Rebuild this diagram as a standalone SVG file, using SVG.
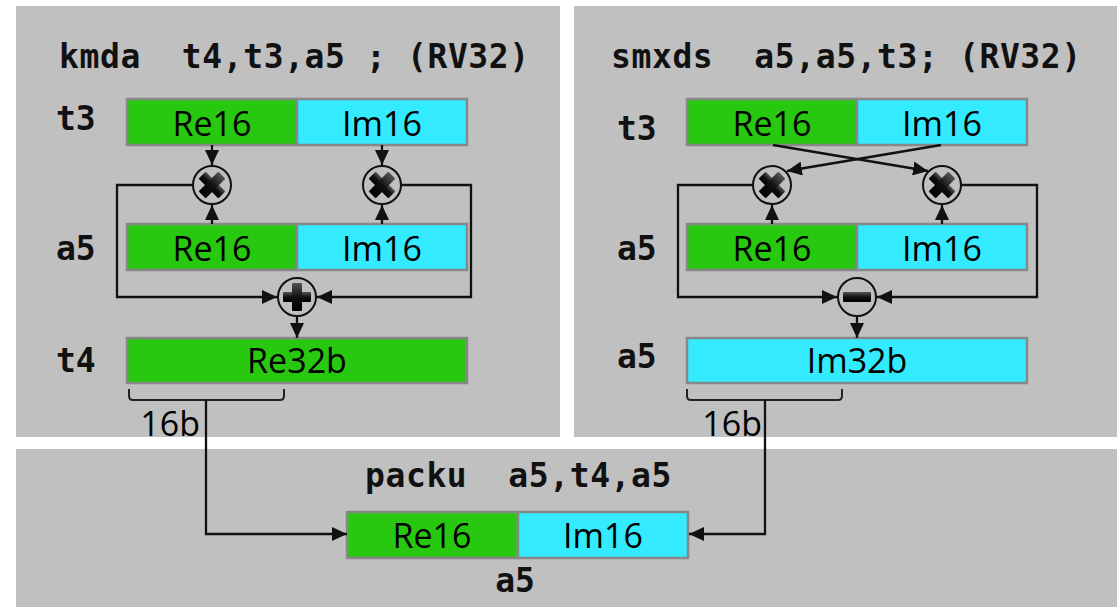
<svg xmlns="http://www.w3.org/2000/svg" width="1117" height="607" viewBox="0 0 1117 607">
<style>
.panel{fill:#c0c0c0}
.re{fill:#27c80f;stroke:#888;stroke-width:2.5}
.im{fill:#33eaff;stroke:#888;stroke-width:2.5}
.lbl{font-family:"Open Sans","Noto Sans",sans-serif;font-size:34px;fill:#000;text-anchor:middle}
.mono{font-family:"DejaVu Sans Mono","Liberation Mono",monospace;font-weight:bold;font-size:33px;letter-spacing:0.6px;fill:#111}
.reg{font-family:"DejaVu Sans Mono","Liberation Mono",monospace;font-weight:bold;font-size:33px;fill:#111}
.op{fill:none;stroke:#111;stroke-width:2}
.sym{fill:url(#g)}
.wire{fill:none;stroke:#111;stroke-width:2.3}
.arr{marker-end:url(#ah)}
.brace{fill:none;stroke:#222;stroke-width:2}
</style>
<defs>
<linearGradient id="g" x1="0" y1="0" x2="0" y2="1">
<stop offset="0" stop-color="#555"/>
<stop offset="0.5" stop-color="#111"/>
<stop offset="1" stop-color="#000"/>
</linearGradient>
<marker id="ah" viewBox="0 0 15 14" refX="15" refY="7" markerWidth="15" markerHeight="14" markerUnits="userSpaceOnUse" orient="auto">
<path d="M0,0 L15,7 L0,14 z" fill="#111"/>
</marker>
</defs>
<rect width="1117" height="607" fill="#fff"/>
<rect class="panel" x="16" y="6" width="544" height="431"/>
<rect class="panel" x="574" y="6" width="543" height="431"/>
<rect class="panel" x="16" y="449" width="1101" height="158"/>

<g id="title-kmda"><text class="mono" x="59" y="68" xml:space="preserve">kmda  t4,t3,a5 ; (RV32)</text></g>
<g id="title-smxds"><text class="mono" x="611" y="68" xml:space="preserve">smxds  a5,a5,t3; (RV32)</text></g>
<g id="title-packu"><text class="mono" x="365" y="487" xml:space="preserve">packu  a5,t4,a5</text></g>

<!-- left panel -->
<g id="L-t3">
<text class="reg" x="56" y="130">t3</text>
<rect class="re" x="127" y="99" width="170" height="46"/>
<rect class="im" x="297" y="99" width="170" height="46"/>
<text class="lbl" x="212" y="136">Re16</text>
<text class="lbl" x="382" y="136">Im16</text>
</g>
<g id="L-a5">
<text class="reg" x="56" y="260">a5</text>
<rect class="re" x="127" y="224" width="170" height="46"/>
<rect class="im" x="297" y="224" width="170" height="46"/>
<text class="lbl" x="212" y="261">Re16</text>
<text class="lbl" x="382" y="261">Im16</text>
</g>
<g id="L-t4">
<text class="reg" x="56" y="372">t4</text>
<rect class="re" x="127" y="338" width="340" height="45"/>
<text class="lbl" x="297" y="373">Re32b</text>
</g>
<g id="L-mul1">
<circle class="op" cx="212" cy="185" r="19"/>
<g transform="translate(212 185) rotate(45)"><rect class="sym" x="-14" y="-5" width="28" height="10" rx="1"/><rect class="sym" x="-5" y="-14" width="10" height="28" rx="1"/></g>
</g>
<g id="L-mul2">
<circle class="op" cx="382" cy="185" r="19"/>
<g transform="translate(382 185) rotate(45)"><rect class="sym" x="-14" y="-5" width="28" height="10" rx="1"/><rect class="sym" x="-5" y="-14" width="10" height="28" rx="1"/></g>
</g>
<g id="L-add">
<circle class="op" cx="297" cy="297" r="19"/>
<g transform="translate(297 297)"><rect class="sym" x="-14" y="-5" width="28" height="10" rx="1"/><rect class="sym" x="-5" y="-14" width="10" height="28" rx="1"/></g>
</g>
<g id="L-16b">
<path class="brace" d="M129,389 V396 Q129,400 133,400 H280 Q284,400 284,396 V389"/>
<text class="lbl" x="200" y="436" style="text-anchor:end">16b</text>
</g>

<!-- right panel -->
<g id="R-t3">
<text class="reg" x="617" y="140">t3</text>
<rect class="re" x="687" y="99" width="170" height="46"/>
<rect class="im" x="857" y="99" width="170" height="46"/>
<text class="lbl" x="772" y="136">Re16</text>
<text class="lbl" x="942" y="136">Im16</text>
</g>
<g id="R-a5">
<text class="reg" x="617" y="260">a5</text>
<rect class="re" x="687" y="224" width="170" height="46"/>
<rect class="im" x="857" y="224" width="170" height="46"/>
<text class="lbl" x="772" y="261">Re16</text>
<text class="lbl" x="942" y="261">Im16</text>
</g>
<g id="R-a5out">
<text class="reg" x="617" y="368">a5</text>
<rect class="im" x="687" y="338" width="340" height="45"/>
<text class="lbl" x="857" y="373">Im32b</text>
</g>
<g id="R-mul1">
<circle class="op" cx="772" cy="185" r="19"/>
<g transform="translate(772 185) rotate(45)"><rect class="sym" x="-14" y="-5" width="28" height="10" rx="1"/><rect class="sym" x="-5" y="-14" width="10" height="28" rx="1"/></g>
</g>
<g id="R-mul2">
<circle class="op" cx="942" cy="185" r="19"/>
<g transform="translate(942 185) rotate(45)"><rect class="sym" x="-14" y="-5" width="28" height="10" rx="1"/><rect class="sym" x="-5" y="-14" width="10" height="28" rx="1"/></g>
</g>
<g id="R-sub">
<circle class="op" cx="857" cy="297" r="19"/>
<rect class="sym" x="843" y="292" width="28" height="10" rx="1"/>
</g>
<g id="R-16b">
<path class="brace" d="M687,389 V396 Q687,400 691,400 H838 Q842,400 842,396 V389"/>
<text class="lbl" x="762" y="436" style="text-anchor:end">16b</text>
</g>

<!-- bottom -->
<g id="B-a5">
<rect class="re" x="347" y="512" width="171" height="46"/>
<rect class="im" x="518" y="512" width="170" height="46"/>
<text class="lbl" x="432" y="548">Re16</text>
<text class="lbl" x="603" y="548">Im16</text>
<text class="reg" x="515" y="592" style="text-anchor:middle">a5</text>
</g>

<g id="connectors">
<path class="wire arr" d="M212,145 V165"/>
<path class="wire arr" d="M382,145 V165"/>
<path class="wire arr" d="M212,224 V205"/>
<path class="wire arr" d="M382,224 V205"/>
<path class="wire arr" d="M193,185 H117 V297 H277"/>
<path class="wire arr" d="M401,185 H471 V297 H317"/>
<path class="wire arr" d="M297,316 V338"/>

<path class="wire arr" d="M773,145 L928,171"/>
<path class="wire arr" d="M941,145 L787,171"/>
<path class="wire arr" d="M772,224 V205"/>
<path class="wire arr" d="M942,224 V205"/>
<path class="wire arr" d="M753,185 H678 V297 H837"/>
<path class="wire arr" d="M961,185 H1037 V297 H877"/>
<path class="wire arr" d="M857,316 V338"/>

<path class="wire arr" d="M206,400 V534 H347"/>
<path class="wire arr" d="M765,400 V534 H689"/>
</g>
</svg>
